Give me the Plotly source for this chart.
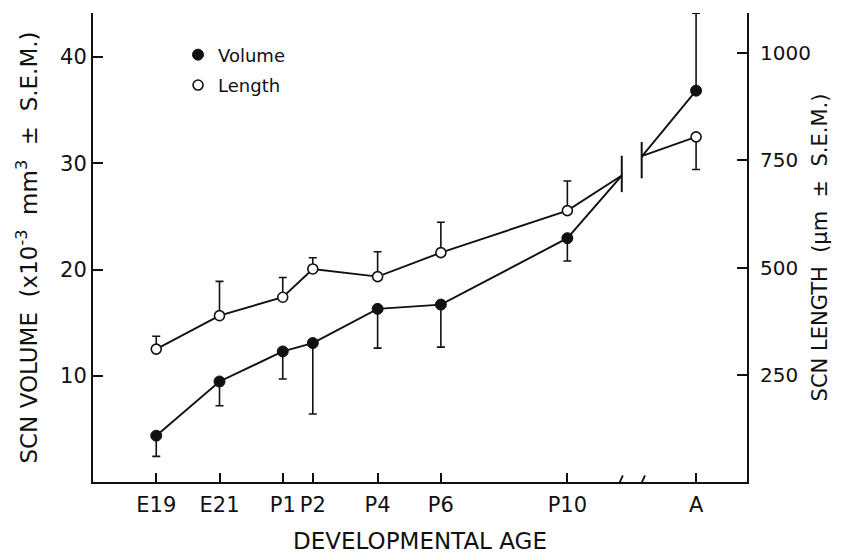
import plotly.graph_objects as go

# ---- data ----
ages = ["E19", "E21", "P1", "P2", "P4", "P6", "P10", "A"]
age_pos = [-3, -1, 1, 1.95, 4, 6, 10, 14.07]          # day axis; adult placed after the axis break
volume = [4.36, 9.46, 12.29, 13.08, 16.30, 16.70, 22.95, 36.84]      # x10^-3 mm^3
volume_sem_down = [1.95, 2.28, 2.60, 6.68, 3.70, 4.00, 2.15, 0]
volume_sem_up = [0, 0, 0, 0, 0, 0, 0, 7.3]
length = [310, 388, 431, 497, 479, 535, 633, 805]                     # um
length_sem_up = [30, 80, 46, 26, 58, 71, 69, 0]
length_sem_down = [0, 0, 0, 0, 0, 0, 0, 76]

# axis break (lines converge on break marks)
break_pos = [11.72, 12.35]
break_join_volume = [28.84, 30.63]
break_join_length = [715, 760]
break_bar_volume = [29.0, 30.3]
axis_break_x = [11.66, 12.36]

vol_ticks = [10, 20, 30, 40]
len_ticks = [250, 500, 750, 1000]

INK = "#111111"
FONT = "DejaVu Sans"

fig = go.Figure()

n = len(ages) - 1
line_x = age_pos[:n] + [break_pos[0], None, break_pos[1], age_pos[n]]
vol_line = volume[:n] + [break_join_volume[0], None, break_join_volume[1], volume[n]]
len_line = length[:n] + [break_join_length[0], None, break_join_length[1], length[n]]

# connecting lines
fig.add_trace(go.Scatter(x=line_x, y=vol_line, mode="lines", connectgaps=False,
                         line=dict(color=INK, width=1.9), showlegend=False, hoverinfo="skip"))
fig.add_trace(go.Scatter(x=line_x, y=len_line, mode="lines", connectgaps=False, yaxis="y2",
                         line=dict(color=INK, width=1.9), showlegend=False, hoverinfo="skip"))

# break marks
fig.add_trace(go.Scatter(x=break_pos, y=break_bar_volume, mode="markers",
                         marker=dict(symbol="line-ns", size=26, line=dict(color=INK, width=2)),
                         showlegend=False, hoverinfo="skip"))

# error bars (one-sided)
fig.add_trace(go.Scatter(x=age_pos, y=volume, mode="markers", marker=dict(size=1, color="rgba(0,0,0,0)"),
                         error_y=dict(type="data", symmetric=False, array=volume_sem_up,
                                      arrayminus=volume_sem_down, color=INK, thickness=1.6, width=4),
                         showlegend=False, hoverinfo="skip", cliponaxis=False))
fig.add_trace(go.Scatter(x=age_pos, y=length, mode="markers", yaxis="y2",
                         marker=dict(size=1, color="rgba(0,0,0,0)"),
                         error_y=dict(type="data", symmetric=False, array=length_sem_up,
                                      arrayminus=length_sem_down, color=INK, thickness=1.6, width=4),
                         showlegend=False, hoverinfo="skip", cliponaxis=False))

# markers
fig.add_trace(go.Scatter(x=age_pos, y=volume, mode="markers", name="Volume",
                         marker=dict(symbol="circle", size=11, color=INK, line=dict(color=INK, width=1)),
                         showlegend=True, legendgroup="v", cliponaxis=False))
fig.add_trace(go.Scatter(x=age_pos, y=length, mode="markers", name="Length", yaxis="y2",
                         marker=dict(symbol="circle", size=10, color="white", line=dict(color=INK, width=1.6)),
                         showlegend=True, legendgroup="l", cliponaxis=False))

shapes = []
# gap in x-axis line between the break slashes
shapes.append(dict(type="rect", xref="x", yref="y", x0=axis_break_x[0], x1=axis_break_x[1],
                   y0=-0.4, y1=0.4, fillcolor="white", line=dict(width=0), layer="above"))
for bx in axis_break_x:
    shapes.append(dict(type="line", xref="x", yref="y", xsizemode="pixel", ysizemode="pixel",
                       xanchor=bx, yanchor=0, x0=-3, x1=3, y0=-6.5, y1=6.5,
                       line=dict(color=INK, width=1.8), layer="above"))

# the page body adds an 8px offset, so the figure is 8px smaller and margins shifted
fig.update_layout(
    width=834, height=546,
    margin=dict(l=85, r=95, t=5, b=72, autoexpand=False),
    paper_bgcolor="white", plot_bgcolor="white",
    font=dict(family=FONT, size=21, color=INK),
    showlegend=True,
    legend=dict(x=0.13, y=0.95, xanchor="left", yanchor="top", bgcolor="rgba(0,0,0,0)",
                font=dict(size=18), itemwidth=30, tracegroupgap=4, traceorder="grouped"),
    shapes=shapes,
    xaxis=dict(range=[-5, 15.68], tickvals=age_pos, ticktext=ages, showgrid=False, zeroline=False,
               showline=True, linecolor=INK, linewidth=2, ticks="inside", ticklen=9, tickwidth=1.5,
               tickcolor=INK, ticklabelstandoff=3, automargin=False,
               title=dict(text="DEVELOPMENTAL AGE", standoff=20, font=dict(size=23))),
    yaxis=dict(range=[0, 44.15], tickvals=vol_ticks, showgrid=False, zeroline=False,
               showline=True, linecolor=INK, linewidth=2, ticks="inside", ticklen=10, tickwidth=1.5,
               tickcolor=INK, ticklabelstandoff=0, automargin=False,
               title=dict(text="SCN VOLUME  (x10<sup>-3</sup>  mm<sup>3</sup>  ±  S.E.M.)",
                          standoff=16, font=dict(size=23))),
    yaxis2=dict(range=[0, 1094], tickvals=len_ticks, overlaying="y", side="right", showgrid=False,
                zeroline=False, showline=True, linecolor=INK, linewidth=2, ticks="inside", ticklen=10,
                tickwidth=1.5, tickcolor=INK, ticklabelstandoff=7, automargin=False,
                tickfont=dict(size=20),
                title=dict(text="SCN LENGTH  (μm  ±  S.E.M.)", standoff=2, font=dict(size=21))),
)

fig.write_html("out.html")
